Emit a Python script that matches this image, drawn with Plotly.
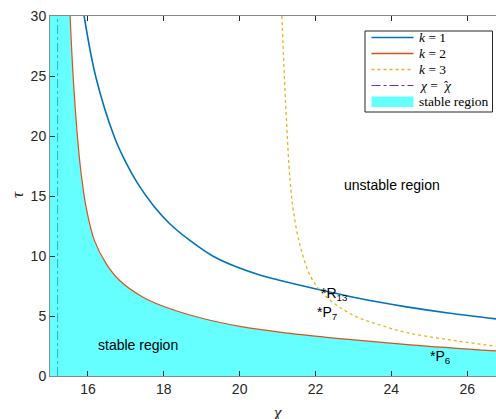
import plotly.graph_objects as go

# ---- data ----
k1_chi = [15.90, 16.21, 16.70, 17.00, 17.31, 17.75, 18.15, 18.68, 19.29, 19.91, 20.53, 21.05, 22.16, 23.00, 23.70, 24.40, 25.50, 26.76]
k1_tau = [30.0, 24.9, 19.9, 17.8, 16.05, 14.10, 12.71, 11.32, 10.0, 9.1, 8.42, 7.98, 7.15, 6.57, 6.14, 5.76, 5.25, 4.76]

k2_chi = [15.53, 15.61, 15.73, 15.82, 15.95, 16.17, 16.48, 16.83, 17.44, 18.15, 19.03, 20.08, 21.2, 22.64, 24.5, 26.76]
k2_tau = [30.0, 25.0, 19.7, 16.9, 14.1, 11.3, 9.37, 7.98, 6.59, 5.62, 4.79, 4.09, 3.6, 3.12, 2.6, 2.09]

k3_chi = [21.115, 21.22, 21.33, 21.42, 21.60, 21.87, 22.16, 22.56, 23.09, 23.70, 24.40, 25.46, 26.76]
k3_tau = [30.0, 22.2, 16.3, 13.7, 10.8, 8.3, 7.0, 5.9, 4.92, 4.25, 3.62, 3.05, 2.48]

chi_hat = 15.2
x_min, x_max = 15.0, 26.76
y_min, y_max = 0.0, 30.0
x_ticks = [16, 18, 20, 22, 24, 26]
y_ticks = [0, 5, 10, 15, 20, 25, 30]

points = [  # label, chi, tau
    ("*R<sub>13</sub>", 22.10, 6.81),
    ("*P<sub>7</sub>", 22.00, 5.23),
    ("*P<sub>6</sub>", 24.97, 1.6),
]
region_labels = [
    ("stable region", 16.22, 2.6),
    ("unstable region", 22.69, 15.9),
]
legend_labels = ["<i>k</i> = 1", "<i>k</i> = 2", "<i>k</i> = 3", "<i>χ</i> =", "stable region"]

BLUE = "#0072BD"
ORANGE = "#D95319"
YELLOW = "#EDB120"
PURPLE = "#7E2F8E"
FILL = "#66FFFF"            # cyan at 60% over white
HAT_LINE = "#32ACD2"        # purple seen through the 60% cyan patch

# plot-area geometry (pixels) used for the hand-drawn legend
L, R, T, B = 50, 496, 16, 376
def px2x(px):
    return (px - L) / (R - L)
def py2y(py):
    return (B - py) / (B - T)

fig = go.Figure()

# stable region (left strip + area under the k=2 curve)
fig.add_trace(go.Scatter(x=[x_min, x_min, k2_chi[0], k2_chi[0]], y=[y_min, y_max, y_max, y_min],
                         mode="lines", line=dict(width=0), fill="toself",
                         fillcolor=FILL, showlegend=False, hoverinfo="skip"))
fig.add_trace(go.Scatter(x=k2_chi, y=k2_tau, mode="lines",
                         line=dict(width=0, shape="spline"), fill="tozeroy",
                         fillcolor=FILL, showlegend=False, hoverinfo="skip"))

# vertical line chi = chi_hat (seen through the translucent patch)
fig.add_trace(go.Scatter(x=[chi_hat, chi_hat], y=[y_min, y_max], mode="lines",
                         line=dict(color=HAT_LINE, width=1, dash="dashdot"),
                         showlegend=False))

fig.add_trace(go.Scatter(x=k1_chi, y=k1_tau, mode="lines",
                         line=dict(color=BLUE, width=1.6, shape="spline"), showlegend=False))
fig.add_trace(go.Scatter(x=k2_chi, y=k2_tau, mode="lines",
                         line=dict(color=ORANGE, width=1.2, shape="spline"), showlegend=False))
fig.add_trace(go.Scatter(x=k3_chi, y=k3_tau, mode="lines",
                         line=dict(color=YELLOW, width=1.3, dash="dot", shape="spline"),
                         showlegend=False))

annotations = []
for txt, cx, ct in points + region_labels:
    annotations.append(dict(x=cx, y=ct, xref="x", yref="y", text=txt, showarrow=False,
                            xanchor="left", yanchor="middle",
                            font=dict(family="Liberation Sans, Arial", size=14, color="#000")))
# axis labels
annotations.append(dict(x=px2x(277), y=py2y(412), xref="paper", yref="paper",
                        text="<i>χ</i>", showarrow=False, xanchor="center", yanchor="middle",
                        font=dict(family="Liberation Serif, serif", size=17, color="#262626")))
annotations.append(dict(x=px2x(17), y=py2y(195), xref="paper", yref="paper",
                        text="<i>τ</i>", showarrow=False, xanchor="center", yanchor="middle",
                        textangle=-90,
                        font=dict(family="Liberation Serif, serif", size=17, color="#262626")))

# ---- hand-drawn legend (MATLAB style) ----
shapes = []
shapes.append(dict(type="rect", xref="paper", yref="paper",
                   x0=px2x(365), x1=px2x(492.5), y0=py2y(112), y1=py2y(31),
                   line=dict(color="#262626", width=1), fillcolor="white", layer="above"))
row_y = [37.5, 53.5, 69.5, 85.5, 101.5]
samples = [(BLUE, "solid", 1.6), (ORANGE, "solid", 1.4), (YELLOW, "dot", 1.3), (PURPLE, "dashdot", 1.2)]
for (col, dash, w), yy in zip(samples, row_y[:4]):
    shapes.append(dict(type="line", xref="paper", yref="paper",
                       x0=px2x(371.5), x1=px2x(413.5), y0=py2y(yy), y1=py2y(yy),
                       line=dict(color=col, width=w, dash=dash), layer="above"))
shapes.append(dict(type="rect", xref="paper", yref="paper",
                   x0=px2x(371.5), x1=px2x(413.5), y0=py2y(107), y1=py2y(96.5),
                   line=dict(width=0), fillcolor=FILL, layer="above"))
LEG_FONT = dict(family="Liberation Serif, serif", size=13.5, color="#000")
for txt, yy in zip(legend_labels, row_y):
    annotations.append(dict(x=px2x(416.5), y=py2y(yy), xref="paper", yref="paper", text=txt,
                            showarrow=False, xanchor="left", yanchor="middle", font=LEG_FONT))
# hatted chi of the chi = chi-hat entry
annotations.append(dict(x=px2x(440.5), y=py2y(row_y[3]), xref="paper", yref="paper",
                        text="<i>χ</i>", showarrow=False, xanchor="left", yanchor="middle",
                        font=LEG_FONT))
annotations.append(dict(x=px2x(446.0), y=py2y(row_y[3] + 0.5), xref="paper", yref="paper",
                        text="ˆ", showarrow=False, xanchor="center", yanchor="middle",
                        font=dict(family="Liberation Serif, serif", size=12, color="#000")))

fig.update_layout(
    width=496, height=419,
    margin=dict(l=L, r=496 - R, t=T, b=419 - B),
    paper_bgcolor="white", plot_bgcolor="white",
    font=dict(family="Liberation Sans, Arial", size=14, color="#262626"),
    showlegend=False,
    annotations=annotations,
    shapes=shapes,
)
fig.update_xaxes(range=[x_min, x_max], tickvals=x_ticks, ticks="inside", ticklen=5,
                 tickcolor="#262626", showline=True, linecolor="#888", linewidth=1,
                 mirror="ticks", showgrid=False, zeroline=False,
                 tickfont=dict(size=14, color="#262626"))
fig.update_yaxes(range=[y_min, y_max], tickvals=y_ticks, ticks="inside", ticklen=5,
                 tickcolor="#262626", showline=True, linecolor="#888", linewidth=1,
                 mirror=False, showgrid=False, zeroline=False,
                 tickfont=dict(size=14, color="#262626"))

fig.write_html("out.html")
